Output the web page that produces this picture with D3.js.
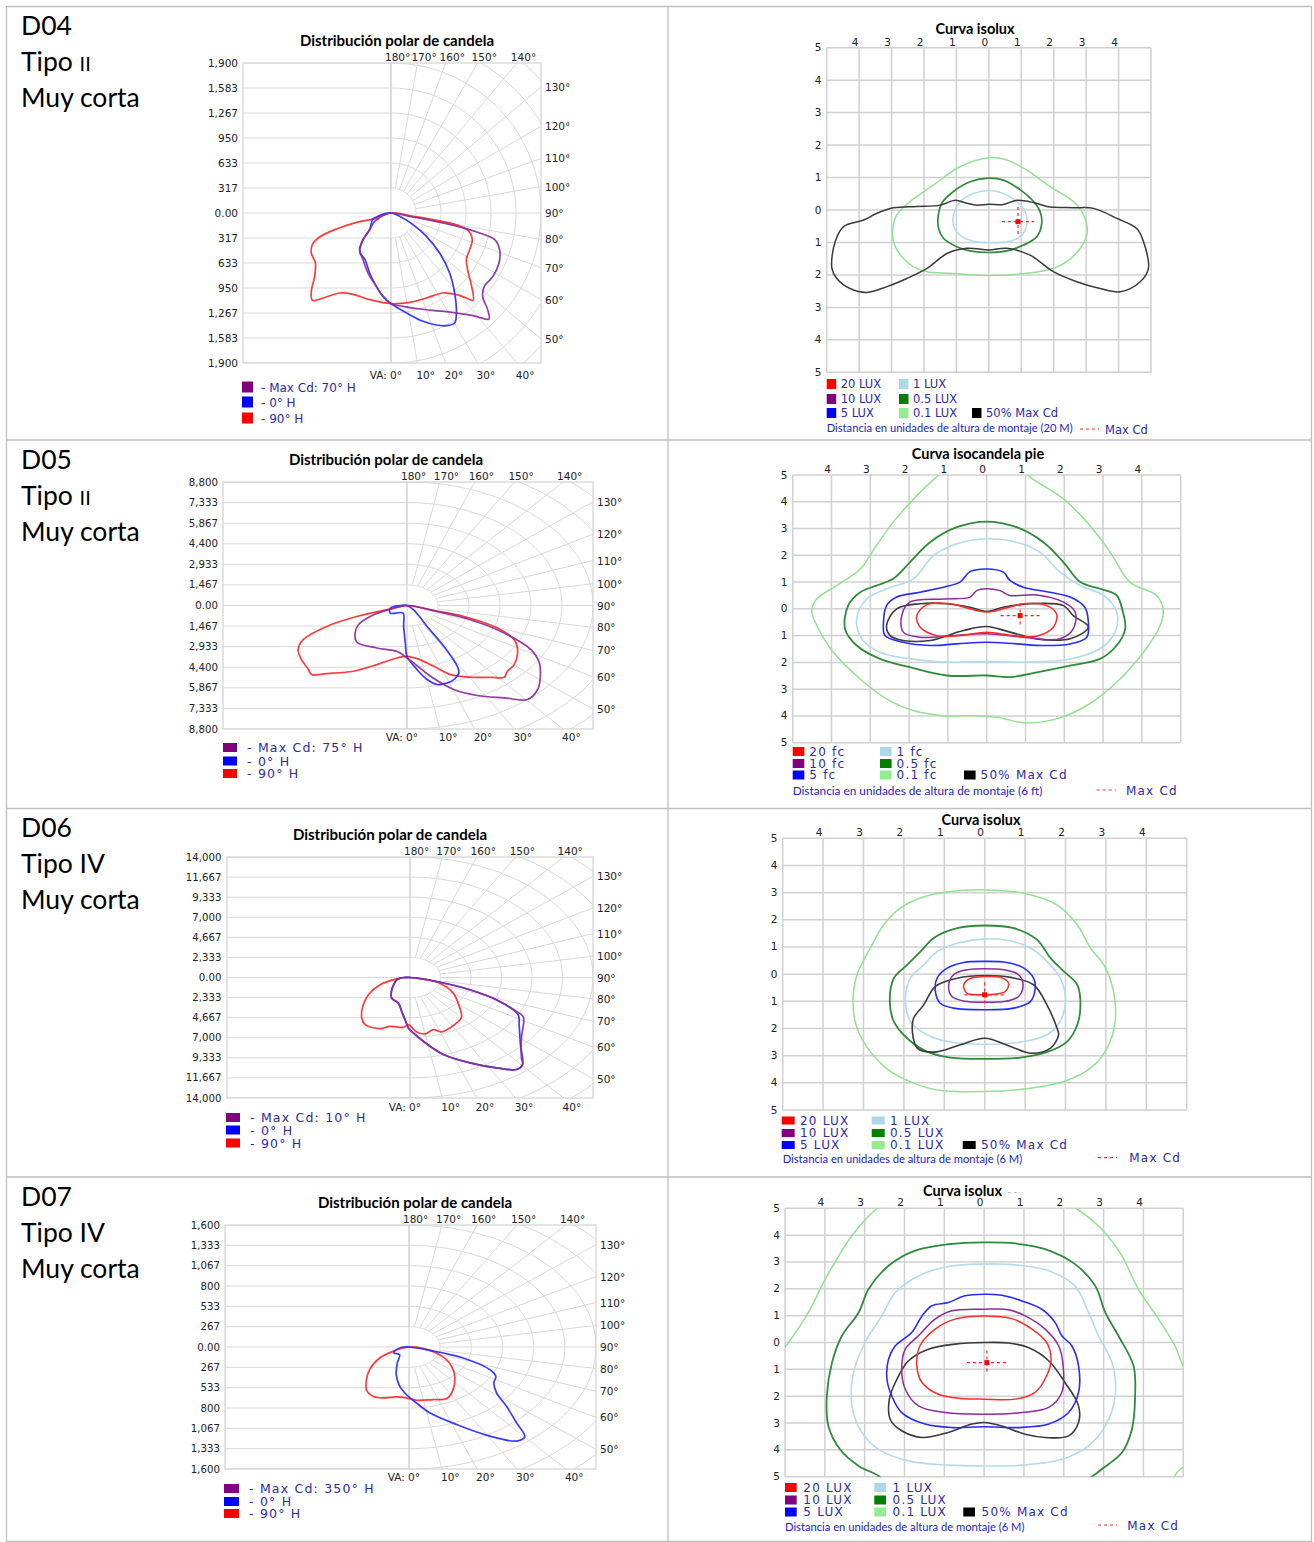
<!DOCTYPE html>
<html><head><meta charset="utf-8">
<script src="https://cdn.jsdelivr.net/npm/d3@7"></script>
<style>body{margin:0;background:#fff}svg{display:block}</style>
</head><body>
<svg id="c" width="1314" height="1542"></svg>
<script>
// ---------------- DATA ----------------
const rowIds = ["D04", "D05", "D06", "D07"];
const rowTipo = ["II", "II", "IV", "IV"];
const rowRange = ["Muy corta", "Muy corta", "Muy corta", "Muy corta"];

const polarTitle = "Distribución polar de candela";
const polarMax = [1900, 8800, 14000, 1600];
const polarTickLabels = [
  ["0.00", "317", "633", "950", "1,267", "1,583", "1,900"],
  ["0.00", "1,467", "2,933", "4,400", "5,867", "7,333", "8,800"],
  ["0.00", "2,333", "4,667", "7,000", "9,333", "11,667", "14,000"],
  ["0.00", "267", "533", "800", "1,067", "1,333", "1,600"]
];
const polarAngles = [0, 10, 20, 30, 40, 50, 60, 70, 80, 90, 100, 110, 120, 130, 140, 150, 160, 170, 180];
const maxCdLabels = ["- Max Cd: 70° H", "- Max Cd: 75° H", "- Max Cd: 10° H", "- Max Cd: 350° H"];
const planeLabels = ["- 0° H", "- 90° H"];

// polar curves: [horizontal candela component, downward candela component]
const d04_red = [[0,0],[-186,68],[-397,110],[-692,203],[-904,304],[-996,401],[-1009,507],[-958,633],[-967,802],[-1009,992],[-996,1106],[-861,1077],[-650,1013],[-481,1030],[-270,1098],[0,1148],[236,1132],[448,1077],[659,1013],[828,1034],[954,1077],[1039,1106],[1022,929],[980,760],[954,591],[996,464],[1030,338],[975,220],[828,148],[532,84],[279,42]];
const d04_blue = [[0,0],[110,42],[279,148],[448,296],[616,507],[743,760],[806,1013],[828,1267],[806,1393],[701,1427],[574,1419],[405,1372],[236,1288],[110,1216],[0,1148],[-101,1056],[-186,929],[-270,760],[-329,591],[-376,528],[-397,464],[-355,338],[-270,211],[-236,84],[-211,63],[-165,42],[-80,8]];
const d04_purple = [[0,0],[279,51],[701,135],[1123,253],[1313,338],[1376,464],[1368,633],[1292,802],[1182,929],[1161,1056],[1224,1224],[1241,1343],[1039,1300],[701,1250],[363,1216],[152,1182],[0,1148],[-101,1056],[-186,929],[-291,760],[-363,570],[-397,486],[-363,359],[-270,211],[-207,106],[-160,76],[-143,51],[-59,13]];

const d05_red = [[0,0],[-793,260],[-2378,781],[-3804,1491],[-4914,2437],[-5151,3147],[-4993,3857],[-4676,4519],[-4517,4921],[-3804,4850],[-2536,4685],[-1427,4211],[-476,3738],[0,3620],[476,3786],[1268,4330],[2061,4921],[3012,5111],[3963,5111],[4597,5111],[4755,4685],[5072,4211],[5231,3147],[5072,2437],[4280,1609],[2695,781],[1110,308],[317,47]];
const d05_purple = [[0,0],[1427,426],[3012,1017],[4597,1964],[5865,3147],[6262,4093],[6310,5040],[6183,5986],[5707,6696],[4597,6577],[3329,6412],[2219,5986],[1110,5040],[317,4093],[0,3738],[-476,3265],[-1427,3029],[-2378,2603],[-2457,1964],[-2299,1372],[-1744,781],[-793,260]];
const d05_blue = [[0,0],[317,308],[951,1491],[1744,2910],[2378,4330],[2457,4803],[2219,5276],[1744,5584],[1427,5631],[951,5276],[476,4566],[0,3620],[-79,2674],[-159,1491],[-190,544],[-793,544],[-793,189],[-300,0]];

const d06_red = [[0,0],[-1018,154],[-2291,849],[-3181,2006],[-3614,3356],[-3690,4706],[-3436,5477],[-2291,5940],[-1527,5670],[-509,5786],[-127,5477],[509,6325],[1145,6557],[1782,6055],[2418,6325],[3054,5863],[3563,5284],[3945,4628],[3767,3356],[3309,1813],[2291,656],[1018,154]];
const d06_purple = [[0,0],[2036,463],[4581,1427],[6872,2777],[8144,3934],[8653,4513],[8704,5091],[8526,7020],[8526,9334],[8602,10105],[8144,10684],[6617,10491],[4581,9913],[2545,8948],[1018,7405],[254,6441],[-127,5863],[-254,5400],[-636,3934],[-891,2970],[-1400,2391],[-1400,1427],[-1222,771],[-1018,270],[-509,0]];
const d06_blue = [[0,0],[2036,463],[4581,1427],[6872,2777],[8271,4320],[8348,5477],[8449,7791],[8602,10182],[8144,10684],[6617,10491],[4581,9913],[2545,8948],[1018,7405],[254,6441],[-127,5863],[-254,5400],[-636,3934],[-891,2970],[-1400,2391],[-1400,1427],[-1222,771],[-1018,270],[-509,0]];

const d07_red = [[0,0],[-137,57],[-251,144],[-337,296],[-366,449],[-360,580],[-309,645],[-223,667],[-109,654],[-23,667],[63,698],[206,689],[320,680],[363,610],[391,471],[383,318],[334,187],[234,78],[120,17]];
const d07_blue = [[0,0],[177,44],[463,144],[691,296],[743,384],[726,471],[749,602],[834,776],[920,994],[991,1177],[920,1234],[691,1168],[406,1016],[177,863],[63,733],[-23,623],[-80,514],[-109,362],[-100,209],[-80,100],[-131,78],[-109,35],[-51,0]];

// isolux charts
const isoTitles = ["Curva isolux", "Curva isocandela pie", "Curva isolux", "Curva isolux"];
const isoXTicks = [-4, -3, -2, -1, 0, 1, 2, 3, 4];
const isoYTicks = [5, 4, 3, 2, 1, 0, -1, -2, -3, -4, -5];
const isoGrid = [-5, -4, -3, -2, -1, 0, 1, 2, 3, 4, 5];
const luxLegend = ["20 LUX", "10 LUX", "5 LUX", "1 LUX", "0.5 LUX", "0.1 LUX", "50% Max Cd"];
const fcLegend = ["20 fc", "10 fc", "5 fc", "1 fc", "0.5 fc", "0.1 fc", "50% Max Cd"];
const isoNotes = [
  "Distancia en unidades de altura de montaje (20 M)",
  "Distancia en unidades de altura de montaje (6 ft)",
  "Distancia en unidades de altura de montaje (6 M)",
  "Distancia en unidades de altura de montaje (6 M)"
];
const maxCdText = "Max Cd";

// contours: [x, y] in mounting heights (y positive = up)
const d04_iso01 = [[0,1.61],[-0.88,1.34],[-1.71,0.77],[-2.43,0.26],[-2.84,-0.15],[-2.96,-0.56],[-2.94,-0.98],[-2.73,-1.39],[-2.32,-1.75],[-1.91,-1.90],[-1.19,-1.95],[0,-2.02],[1.17,-1.95],[1.99,-1.80],[2.40,-1.59],[2.82,-1.18],[3.02,-0.77],[3.02,-0.46],[2.87,-0.05],[2.61,0.26],[1.89,0.72],[1.17,1.23],[0.55,1.54]];
const d04_iso05 = [[0,0.98],[-0.58,0.87],[-1.09,0.57],[-1.45,0.21],[-1.57,-0.26],[-1.55,-0.57],[-1.40,-0.87],[-0.99,-1.13],[-0.58,-1.26],[0,-1.31],[0.55,-1.26],[1.07,-1.08],[1.48,-0.82],[1.63,-0.41],[1.58,-0.05],[1.38,0.26],[0.97,0.62],[0.45,0.92]];
const d04_iso1 = [[0,0.60],[-0.47,0.51],[-0.88,0.26],[-1.09,-0.15],[-1.06,-0.57],[-0.78,-0.85],[-0.37,-0.98],[0,-1.01],[0.55,-0.98],[0.97,-0.82],[1.17,-0.46],[1.12,-0.05],[0.86,0.26],[0.45,0.51]];
const d04_half = [[-4.84,-1.80],[-4.74,-0.98],[-4.48,-0.51],[-3.86,-0.31],[-3.45,-0.10],[-2.94,0.07],[-2.22,0.11],[-1.50,0.15],[-1.04,0.30],[-0.68,0.21],[-0.37,0.15],[0,0.18],[0.45,0.17],[0.86,0.30],[1.38,0.23],[1.79,0.11],[2.61,0.07],[3.23,0.05],[3.95,-0.26],[4.56,-0.57],[4.77,-0.98],[4.92,-1.80],[4.67,-2.21],[4.05,-2.52],[3.43,-2.42],[2.71,-2.21],[1.99,-1.90],[1.27,-1.39],[0.55,-1.18],[0,-1.23],[-0.68,-1.18],[-1.29,-1.34],[-1.91,-1.80],[-2.53,-2.11],[-3.14,-2.36],[-3.76,-2.54],[-4.28,-2.42],[-4.69,-2.11]];
const d04_maxCd = [0.90, -0.36];

const d05_iso01 = [[-1.25,4.98],[-1.80,4.23],[-2.41,3.24],[-2.84,2.37],[-3.26,1.49],[-3.87,0.87],[-4.38,0.37],[-4.51,-0.06],[-4.38,-0.62],[-3.95,-1.62],[-3.26,-2.62],[-2.58,-3.36],[-1.89,-3.80],[-1.12,-3.99],[-0.43,-3.99],[0.26,-4.05],[1.0,-4.26],[1.80,-4.11],[2.58,-3.61],[3.35,-2.74],[4.04,-1.62],[4.47,-0.62],[4.55,-0.06],[4.38,0.50],[3.69,1.0],[3.18,2.12],[2.58,3.24],[1.98,4.11],[1.12,4.92],[0.6,5.6],[-0.7,5.6]];
const d05_iso05 = [[0,3.26],[-0.77,3.05],[-1.46,2.49],[-1.98,1.74],[-2.41,1.12],[-2.84,0.87],[-3.26,0.62],[-3.57,0.12],[-3.65,-0.75],[-3.35,-1.37],[-2.75,-1.87],[-1.98,-2.18],[-1.03,-2.49],[0,-2.49],[0.60,-2.55],[1.29,-2.37],[2.15,-2.12],[2.92,-1.87],[3.35,-1.37],[3.57,-0.75],[3.51,-0.12],[3.35,0.50],[2.92,0.75],[2.41,1.0],[1.98,1.74],[1.46,2.49],[0.77,3.05]];
const d05_iso1 = [[0,2.62],[-0.77,2.43],[-1.37,1.99],[-1.89,1.12],[-2.58,0.75],[-3.09,0.37],[-3.35,-0.37],[-3.22,-1.12],[-2.75,-1.62],[-1.98,-1.87],[-1.03,-1.99],[0,-1.97],[1.12,-1.99],[2.15,-1.87],[2.92,-1.49],[3.31,-0.87],[3.35,-0.12],[3.01,0.50],[2.41,0.87],[1.89,1.37],[1.37,2.12],[0.77,2.49]];
const d05_iso5 = [[0,1.49],[-0.43,1.39],[-0.69,1.0],[-1.12,0.81],[-1.72,0.62],[-2.32,0.44],[-2.58,0.12],[-2.66,-0.50],[-2.62,-1.0],[-2.15,-1.25],[-1.46,-1.37],[-0.77,-1.31],[0,-1.25],[0.77,-1.31],[1.46,-1.37],[2.15,-1.31],[2.58,-1.06],[2.62,-0.50],[2.53,0.06],[2.15,0.44],[1.63,0.62],[0.94,0.81],[0.60,1.06],[0.43,1.37]];
const d05_iso10 = [[0,0.75],[-0.26,0.68],[-0.43,0.44],[-1.12,0.37],[-1.98,0.25],[-2.19,-0.25],[-2.15,-0.87],[-1.72,-1.06],[-0.86,-1.0],[0,-0.93],[0.94,-1.06],[1.89,-1.12],[2.23,-0.75],[2.28,-0.12],[1.98,0.25],[1.29,0.52],[0.60,0.50],[0.34,0.68]];
const d05_iso20 = [[0,-0.12],[-0.43,0],[-0.95,0.19],[-1.55,0.15],[-1.80,-0.25],[-1.72,-0.68],[-1.29,-1.0],[-0.69,-1.0],[0,-0.87],[0.69,-1.0],[1.29,-1.02],[1.72,-0.68],[1.80,-0.19],[1.55,0.12],[0.94,0.19],[0.43,0]];
const d05_half = [[-2.58,-0.62],[-2.32,0],[-1.72,0.19],[-1.03,0.19],[-0.43,0.06],[0,-0.09],[0.43,0.06],[1.12,0.19],[1.98,0.12],[2.23,-0.25],[2.62,-0.68],[2.15,-1.12],[1.29,-1.12],[0.60,-0.87],[0,-0.66],[-0.60,-0.81],[-1.46,-1.18],[-2.15,-1.18],[-2.49,-1.0]];
const d05_maxCd = [0.86, -0.25];

const d06_iso01 = [[0,3.10],[-0.85,3.04],[-1.59,2.80],[-2.09,2.43],[-2.50,1.82],[-2.83,0.96],[-3.16,-0.02],[-3.26,-1.01],[-3.16,-1.99],[-2.83,-2.85],[-2.33,-3.58],[-1.76,-4.01],[-1.18,-4.26],[0,-4.32],[1.13,-4.20],[1.96,-3.95],[2.62,-3.46],[3.03,-2.72],[3.23,-1.74],[3.19,-0.64],[2.95,0.34],[2.62,0.96],[2.29,1.82],[1.79,2.55],[0.97,2.98]];
const d06_iso05 = [[0,1.79],[-0.68,1.69],[-1.26,1.33],[-1.59,0.83],[-1.92,0.34],[-2.25,-0.15],[-2.35,-1.01],[-2.25,-1.74],[-1.92,-2.36],[-1.43,-2.85],[-0.85,-3.07],[0,-3.12],[0.88,-3.07],[1.54,-2.87],[2.04,-2.48],[2.29,-1.87],[2.37,-1.13],[2.29,-0.39],[1.96,0.10],[1.63,0.59],[1.30,1.26],[0.72,1.69]];
const d06_iso1 = [[0,1.30],[-0.68,1.14],[-1.18,0.83],[-1.51,0.34],[-1.84,-0.15],[-1.96,-0.88],[-1.84,-1.74],[-1.43,-2.23],[-0.85,-2.50],[0,-2.58],[0.97,-2.48],[1.54,-2.23],[1.87,-1.74],[2.0,-0.88],[1.87,-0.15],[1.54,0.47],[1.13,0.96],[0.64,1.23]];
const d06_iso5 = [[0,0.47],[-0.52,0.43],[-0.93,0.22],[-1.18,-0.15],[-1.22,-0.64],[-1.10,-1.07],[-0.77,-1.25],[0,-1.31],[0.72,-1.25],[1.13,-1.01],[1.25,-0.52],[1.21,-0.15],[0.97,0.22],[0.55,0.43]];
const d06_iso10 = [[0,0.20],[-0.44,0.16],[-0.77,-0.02],[-0.89,-0.39],[-0.81,-0.82],[-0.44,-1.01],[0,-1.03],[0.47,-1.01],[0.84,-0.82],[0.95,-0.39],[0.84,-0.02],[0.47,0.16]];
const d06_iso20 = [[0,-0.09],[-0.35,-0.15],[-0.52,-0.39],[-0.44,-0.70],[-0.11,-0.76],[0.22,-0.74],[0.51,-0.64],[0.59,-0.33],[0.39,-0.12]];
const d06_half = [[-1.22,-0.45],[-0.68,-0.15],[0,-0.05],[0.64,-0.12],[1.21,-0.39],[1.54,-1.13],[1.79,-1.99],[1.83,-2.23],[1.63,-2.72],[1.13,-2.91],[0.64,-2.66],[0,-2.36],[-0.60,-2.60],[-1.26,-2.87],[-1.67,-2.72],[-1.79,-2.11],[-1.76,-1.62],[-1.51,-1.13]];
const d06_maxCd = [0, -0.76];

const d07_iso01 = [[-2.65,5.03],[-3.32,3.98],[-3.99,2.36],[-4.41,1.12],[-4.91,0],[-5.04,-0.25],[-5.6,-1.5],[-5.6,-5.6],[4.5,-5.6],[4.84,-4.84],[5.3,-4.2],[5.6,-2.0],[5.0,-0.87],[4.79,-0.12],[4.38,0.87],[3.87,1.99],[3.46,3.23],[2.95,4.22],[2.28,5.03],[1.5,5.6],[-1.8,5.6]];
const d07_iso05 = [[0,3.73],[-0.90,3.66],[-1.73,3.42],[-2.40,2.86],[-2.90,1.99],[-3.15,1.12],[-3.57,0.25],[-3.82,-0.75],[-3.95,-1.99],[-3.91,-3.11],[-3.62,-3.98],[-3.15,-4.60],[-2.65,-4.97],[-2.3,-5.4],[0,-5.8],[2.3,-5.4],[2.62,-5.09],[2.95,-4.72],[3.46,-4.10],[3.71,-3.23],[3.79,-1.99],[3.75,-0.87],[3.37,0.25],[3.04,1.12],[2.79,2.11],[2.28,2.92],[1.53,3.48],[0.78,3.69]];
const d07_iso1 = [[0,2.92],[-0.90,2.83],[-1.65,2.48],[-2.23,1.86],[-2.57,0.99],[-2.99,0],[-3.28,-1.12],[-3.32,-2.36],[-3.07,-3.35],[-2.65,-3.98],[-1.90,-4.41],[-0.90,-4.57],[0,-4.60],[0.95,-4.57],[1.95,-4.35],[2.62,-3.85],[3.04,-3.11],[3.29,-1.99],[3.21,-0.75],[2.87,0.25],[2.62,1.12],[2.28,2.11],[1.62,2.67],[0.86,2.88]];
const d07_iso5 = [[0,1.80],[-0.48,1.74],[-0.90,1.49],[-1.31,1.37],[-1.56,0.99],[-1.82,0.37],[-2.23,-0.12],[-2.40,-0.62],[-2.44,-1.37],[-2.32,-1.99],[-2.07,-2.61],[-1.48,-3.04],[-0.81,-3.17],[0,-3.14],[0.86,-3.17],[1.62,-3.04],[2.12,-2.61],[2.37,-1.86],[2.37,-0.87],[2.20,-0.12],[1.95,0.25],[1.78,0.75],[1.45,1.24],[0.95,1.55],[0.44,1.76]];
const d07_iso10 = [[0,1.24],[-0.81,1.18],[-1.23,0.87],[-1.65,0.25],[-1.98,-0.25],[-2.07,-0.99],[-1.98,-1.74],[-1.65,-2.36],[-0.98,-2.61],[0,-2.67],[0.95,-2.61],[1.62,-2.42],[1.95,-1.86],[1.99,-0.99],[1.87,-0.12],[1.53,0.50],[1.03,0.99],[0.61,1.22]];
const d07_iso20 = [[0,0.99],[-0.73,0.87],[-1.23,0.50],[-1.61,-0.12],[-1.69,-0.87],[-1.56,-1.49],[-1.15,-1.93],[-0.56,-2.09],[0,-2.11],[0.78,-2.11],[1.28,-1.86],[1.57,-1.24],[1.68,-0.62],[1.57,0],[1.20,0.50],[0.69,0.89]];
const d07_half = [[0,0],[-0.73,-0.06],[-1.40,-0.25],[-1.90,-0.68],[-2.23,-1.49],[-2.38,-2.11],[-2.36,-2.86],[-2.07,-3.29],[-1.56,-3.54],[-0.90,-3.35],[-0.31,-3.04],[0,-2.98],[0.44,-3.11],[1.03,-3.42],[1.53,-3.54],[2.12,-3.48],[2.37,-2.98],[2.37,-2.36],[2.03,-1.49],[1.62,-0.68],[1.11,-0.19],[0.61,-0.02]];
const d07_maxCd = [0.07, -0.75];

// ---------------- STYLE / LAYOUT ----------------
const C = {red:"#ff2a2a", purple:"#8a2c9a", blue:"#2a2aff", lblue:"#b5dbe8", green:"#2f8a3a", lgreen:"#93e093", black:"#3a3a3a"};
const LEG = ["#ff0000", "#800080", "#0000ff", "#add8e6", "#008000", "#90ee90", "#000000"];
const LEGTXT = "#2c2ca6";

const polarLayout = [
  {x0:243,x1:541,y0:63,y1:363,cx:391,cy:213,titleX:397,titleY:46,tickX:238,tickFs:10.5,angFs:10.5,botDy:16,legX:242,legW:11,legH:11,legY:[387,402,418],legTx:261,legFs:12,legLs:0},
  {x0:223,x1:593,y0:482,y1:729,cx:407,cy:605.5,titleX:386,titleY:465,tickX:218,tickFs:10.2,angFs:10.5,botDy:11.5,legX:223,legW:14,legH:9,legY:[747.5,761,773.5],legTx:247,legFs:12.5,legLs:1.2},
  {x0:227,x1:593,y0:857,y1:1098,cx:410,cy:977.5,titleX:390,titleY:840,tickX:221.5,tickFs:10.2,angFs:10.5,botDy:13,legX:226,legW:14,legH:9,legY:[1117.5,1130,1143],legTx:250,legFs:12.5,legLs:1.2},
  {x0:225,x1:596,y0:1225,y1:1469,cx:409,cy:1347,titleX:415,titleY:1208,tickX:220,tickFs:10.2,angFs:10.5,botDy:11.5,legX:224,legW:15,legH:9,legY:[1488.5,1501.5,1513.5],legTx:249,legFs:12.5,legLs:1.2}
];
const isoLayout = [
  {x0:826.7,x1:1151,y0:47.7,y1:372.3,titleX:975,titleY:33.5,cols:[826.7,899,972],legW:9.5,legH:10,rows:[384,399,413],tdx:14,legFs:11.5,legLs:0,noteY:431.7,noteFs:11.2,dashX:1080,maxTx:1105,maxY:429},
  {x0:792.7,x1:1180.7,y0:475,y1:742.7,titleX:978,titleY:458.5,cols:[792.7,880,964],legW:11.6,legH:9,rows:[751.5,763.5,775],tdx:16.6,legFs:12,legLs:1.2,noteY:794.5,noteFs:11.8,dashX:1096.7,maxTx:1126,maxY:790},
  {x0:782.7,x1:1186.7,y0:838.3,y1:1110,titleX:981,titleY:824.5,cols:[781.7,871.7,962.7],legW:13,legH:8,rows:[1120.5,1133,1145],tdx:18.3,legFs:12,legLs:1.2,noteY:1162.8,noteFs:11.2,dashX:1098,maxTx:1129.3,maxY:1157.7},
  {x0:785,x1:1183.3,y0:1208.3,y1:1476.7,titleX:962.5,titleY:1196,cols:[785,874.3,963.3],legW:11.7,legH:9,rows:[1487.5,1500,1512],tdx:18.3,legFs:12,legLs:1.2,noteY:1530.5,noteFs:11.2,dashX:1098,maxTx:1127.3,maxY:1525}
];
const rowTops = [6.5, 440, 808.5, 1177];

const polarCurves = [
  [{d:d04_red,c:C.red},{d:d04_blue,c:C.blue},{d:d04_purple,c:C.purple}],
  [{d:d05_red,c:C.red},{d:d05_blue,c:C.blue},{d:d05_purple,c:C.purple}],
  [{d:d06_red,c:C.red},{d:d06_blue,c:C.blue},{d:d06_purple,c:C.purple}],
  [{d:d07_red,c:C.red},{d:d07_blue,c:C.blue}]
];
const isoCurves = [
  [{d:d04_iso01,c:C.lgreen,w:1.5},{d:d04_iso1,c:C.lblue,w:1.6},{d:d04_iso05,c:C.green,w:1.7},{d:d04_half,c:C.black,w:1.5}],
  [{d:d05_iso01,c:C.lgreen,w:1.5},{d:d05_iso1,c:C.lblue,w:1.6},{d:d05_iso05,c:C.green,w:1.8},{d:d05_half,c:C.black,w:1.6},{d:d05_iso5,c:C.blue,w:1.6},{d:d05_iso10,c:C.purple,w:1.5},{d:d05_iso20,c:C.red,w:1.5}],
  [{d:d06_iso01,c:C.lgreen,w:1.5},{d:d06_iso1,c:C.lblue,w:1.6},{d:d06_iso05,c:C.green,w:1.8},{d:d06_half,c:C.black,w:1.6},{d:d06_iso5,c:C.blue,w:1.6},{d:d06_iso10,c:C.purple,w:1.5},{d:d06_iso20,c:C.red,w:1.5}],
  [{d:d07_iso01,c:C.lgreen,w:1.5},{d:d07_iso1,c:C.lblue,w:1.6},{d:d07_iso05,c:C.green,w:1.8},{d:d07_half,c:C.black,w:1.6},{d:d07_iso5,c:C.blue,w:1.6},{d:d07_iso10,c:C.purple,w:1.5},{d:d07_iso20,c:C.red,w:1.5}]
];
const isoMax = [d04_maxCd, d05_maxCd, d06_maxCd, d07_maxCd];
const isoLegends = [luxLegend, fcLegend, luxLegend, luxLegend];

// ---------------- DRAW ----------------
const svg = d3.select("#c");
const defs = svg.append("defs");
const LBL = "'DejaVu Sans', Verdana, sans-serif";
const TTL = "Lato, 'Open Sans', sans-serif";

// table borders
const tb = svg.append("g").attr("stroke", "#bfbfbf").attr("stroke-width", 1.3);
[6.5, 668, 1311.5].forEach(xx => tb.append("line").attr("x1", xx).attr("x2", xx).attr("y1", 6).attr("y2", 1542));
[6.5, 440, 808.5, 1177, 1541.5].forEach(yy => tb.append("line").attr("x1", 6).attr("x2", 1312).attr("y1", yy).attr("y2", yy));

// row labels
rowIds.forEach((id, i) => {
  const g = svg.append("g").attr("font-family", TTL).attr("font-size", 26.5).attr("fill", "#000");
  const b = rowTops[i] + 28.5;
  g.append("text").attr("x", 21).attr("y", b).text(id);
  const t = g.append("text").attr("x", 21).attr("y", b + 36).text("Tipo ");
  t.append("tspan").attr("font-size", rowTipo[i] === "II" ? 20 : 26.5).text(rowTipo[i]);
  g.append("text").attr("x", 21).attr("y", b + 72).text(rowRange[i]);
});

const rad = a => a * Math.PI / 180;

function drawPolar(i) {
  const L = polarLayout[i], max = polarMax[i], step = max / 6;
  const x = d3.scaleLinear().domain([0, max]).range([L.cx, L.x1]);
  const y = d3.scaleLinear().domain([0, max]).range([L.cy, L.y1]);
  const g = svg.append("g");
  const cid = "pc" + i;
  defs.append("clipPath").attr("id", cid).append("rect")
    .attr("x", L.x0).attr("y", L.y0).attr("width", L.x1 - L.x0).attr("height", L.y1 - L.y0);
  const grid = g.append("g").attr("clip-path", `url(#${cid})`).attr("stroke", "#d9d9d9").attr("fill", "none").attr("stroke-width", 1);
  d3.range(-6, 7).forEach(k => grid.append("line").attr("x1", L.x0).attr("x2", L.cx).attr("y1", y(k * step)).attr("y2", y(k * step)));
  const pt = (a, r) => [x(r * Math.sin(rad(a))), y(r * Math.cos(rad(a)))];
  const ln = d3.line();
  for (let k = 1; k <= 9; k++) grid.append("path").attr("d", ln(d3.range(0, 181, 2).map(a => pt(a, k * step))));
  polarAngles.forEach(a => {
    const p1 = pt(a, step), p2 = pt(a, max * 3);
    grid.append("line").attr("x1", p1[0]).attr("y1", p1[1]).attr("x2", p2[0]).attr("y2", p2[1]);
  });
  grid.append("line").attr("x1", L.cx).attr("x2", L.cx).attr("y1", L.y0).attr("y2", L.y1).attr("stroke", "#cfcfcf");
  g.append("rect").attr("x", L.x0).attr("y", L.y0).attr("width", L.x1 - L.x0).attr("height", L.y1 - L.y0)
    .attr("fill", "none").attr("stroke", "#d2d2d2").attr("stroke-width", 1.2);

  // title
  g.append("text").attr("x", L.titleX).attr("y", L.titleY).attr("text-anchor", "middle")
    .attr("font-family", TTL).attr("font-weight", 700).attr("font-size", 15).text(polarTitle);

  // value ticks
  const tl = g.append("g").attr("font-family", LBL).attr("font-size", L.tickFs).attr("fill", "#222").attr("text-anchor", "end");
  d3.range(-6, 7).forEach(k => tl.append("text").attr("x", L.tickX).attr("y", y(k * step) + 3.5).text(polarTickLabels[i][Math.abs(k)]));

  // angle labels
  const al = g.append("g").attr("font-family", LBL).attr("font-size", L.angFs).attr("fill", "#222");
  polarAngles.forEach(a => {
    if (a <= 40) {
      const hx = x(max * Math.tan(rad(a)));
      if (a === 0) al.append("text").attr("x", hx + 11).attr("y", L.y1 + L.botDy).attr("text-anchor", "end").text("VA: 0°");
      else al.append("text").attr("x", hx - 1).attr("y", L.y1 + L.botDy).text(a + "°");
    } else if (a <= 130) {
      const vy = y(max * Math.cos(rad(a)) / Math.sin(rad(a)));
      al.append("text").attr("x", L.x1 + 4).attr("y", vy + 4).text(a + "°");
    } else {
      const hx = x(max * Math.tan(rad(180 - a)));
      al.append("text").attr("x", hx - 6).attr("y", L.y0 - 2).text(a + "°");
    }
  });

  // curves
  const cl = d3.line().curve(d3.curveCatmullRomClosed.alpha(0.5));
  polarCurves[i].forEach(c => g.append("path").attr("d", cl(c.d.map(p => [x(p[0]), y(p[1])])))
    .attr("fill", "none").attr("stroke", c.c).attr("stroke-width", 1.7).attr("stroke-linejoin", "round").attr("opacity", 0.92));

  // legend
  const lg = g.append("g").attr("font-family", LBL).attr("font-size", L.legFs).attr("fill", LEGTXT).attr("letter-spacing", L.legLs);
  const legCols = ["#800080", "#0000ff", "#ff0000"];
  const legTx = [maxCdLabels[i], planeLabels[0], planeLabels[1]];
  legTx.forEach((t, k) => {
    lg.append("rect").attr("x", L.legX).attr("y", L.legY[k] - L.legH / 2).attr("width", L.legW).attr("height", L.legH).attr("fill", legCols[k]);
    lg.append("text").attr("x", L.legTx).attr("y", L.legY[k] + 4.5).text(t);
  });
}

function drawIso(i) {
  const L = isoLayout[i];
  const x = d3.scaleLinear().domain([-5, 5]).range([L.x0, L.x1]);
  const y = d3.scaleLinear().domain([5, -5]).range([L.y0, L.y1]);
  const g = svg.append("g");
  const cid = "ic" + i;
  defs.append("clipPath").attr("id", cid).append("rect")
    .attr("x", L.x0).attr("y", L.y0).attr("width", L.x1 - L.x0).attr("height", L.y1 - L.y0);
  const grid = g.append("g").attr("stroke", "#d0d0d0").attr("stroke-width", 1.5);
  isoGrid.forEach(v => {
    grid.append("line").attr("x1", x(v)).attr("x2", x(v)).attr("y1", L.y0).attr("y2", L.y1);
    grid.append("line").attr("x1", L.x0).attr("x2", L.x1).attr("y1", y(v)).attr("y2", y(v));
  });
  g.append("text").attr("x", L.titleX).attr("y", L.titleY).attr("text-anchor", "middle")
    .attr("font-family", TTL).attr("font-weight", 700).attr("font-size", 14.5).text(isoTitles[i]);
  if (i === 3) g.append("text").attr("x", L.titleX + 45).attr("y", L.titleY - 1).attr("font-family", LBL).attr("font-size", 9).attr("fill", "#999").text("- -");

  const tk = g.append("g").attr("font-family", LBL).attr("font-size", 10.5).attr("fill", "#222").attr("text-anchor", "middle");
  isoXTicks.forEach(v => tk.append("text").attr("x", x(v) - 4).attr("y", L.y0 - 2).text(Math.abs(v)));
  isoYTicks.forEach(v => tk.append("text").attr("x", L.x0 - 8.5).attr("y", y(v) + 3.5).text(Math.abs(v)));

  const cg = g.append("g").attr("clip-path", `url(#${cid})`);
  const cl = d3.line().curve(d3.curveCatmullRomClosed.alpha(0.5));
  isoCurves[i].forEach(c => cg.append("path").attr("d", cl(c.d.map(p => [x(p[0]), y(p[1])])))
    .attr("fill", "none").attr("stroke", c.c).attr("stroke-width", c.w).attr("stroke-linejoin", "round"));

  // max cd marker
  const m = isoMax[i];
  const mk = g.append("g").attr("stroke", "#ff2020").attr("stroke-width", 1.2).attr("stroke-dasharray", "3,3");
  mk.append("line").attr("x1", x(m[0] - 0.5)).attr("x2", x(m[0] + 0.5)).attr("y1", y(m[1])).attr("y2", y(m[1]));
  mk.append("line").attr("x1", x(m[0])).attr("x2", x(m[0])).attr("y1", y(m[1] + 0.45)).attr("y2", y(m[1] - 0.45));
  g.append("rect").attr("x", x(m[0]) - 2.5).attr("y", y(m[1]) - 2.5).attr("width", 5).attr("height", 5).attr("fill", "#ff0000");

  // legend
  const lg = g.append("g").attr("font-family", LBL).attr("font-size", L.legFs).attr("fill", LEGTXT).attr("letter-spacing", L.legLs);
  const labels = isoLegends[i];
  const pos = [[0,0],[0,1],[0,2],[1,0],[1,1],[1,2],[2,2]];
  labels.forEach((t, k) => {
    const cx = L.cols[pos[k][0]], cy = L.rows[pos[k][1]];
    lg.append("rect").attr("x", cx).attr("y", cy - L.legH / 2).attr("width", L.legW).attr("height", L.legH).attr("fill", LEG[k]);
    lg.append("text").attr("x", cx + L.tdx).attr("y", cy + 4).text(t);
  });
  g.append("text").attr("x", L.x0).attr("y", L.noteY).attr("font-family", TTL).attr("font-size", L.noteFs).attr("fill", "#2424c8").text(isoNotes[i]);
  g.append("line").attr("x1", L.dashX).attr("x2", L.dashX + 19).attr("y1", L.maxY).attr("y2", L.maxY)
    .attr("stroke", "#ff3030").attr("stroke-width", 1.2).attr("stroke-dasharray", "3,3");
  g.append("text").attr("x", L.maxTx).attr("y", L.maxY + 4.5).attr("font-family", LBL).attr("font-size", L.legFs).attr("fill", LEGTXT).attr("letter-spacing", L.legLs).text(maxCdText);
}

for (let i = 0; i < 4; i++) { drawPolar(i); drawIso(i); }
</script>
</body></html>
